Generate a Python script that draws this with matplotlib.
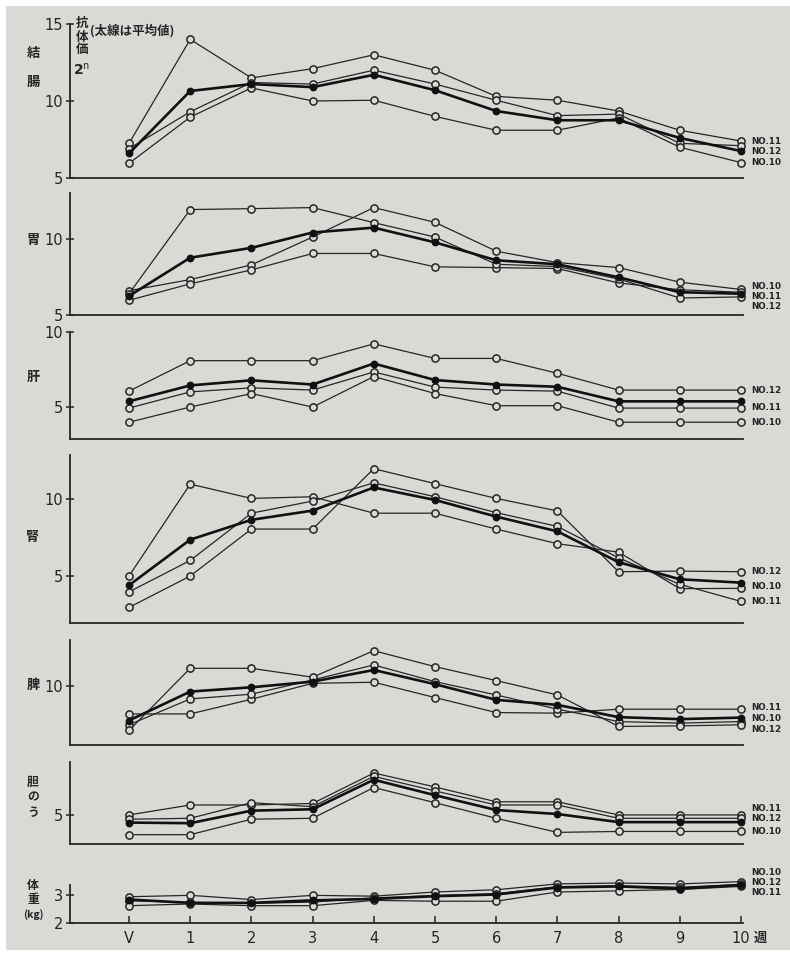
import matplotlib
matplotlib.use("Agg")
import matplotlib.pyplot as plt
from matplotlib.patches import Rectangle

plt.rcParams['font.family'] = ['Noto Sans CJK JP', 'DejaVu Sans']

# weeks after vaccination
x_labels = ['V', '1', '2', '3', '4', '5', '6', '7', '8', '9', '10']

# 結腸
colon_no11 = [7.25, 14.0, 11.5, 12.1, 13.0, 12.0, 10.3, 10.05, 9.35, 8.1, 7.4]
colon_no12 = [6.9, 9.3, 11.2, 11.1, 12.0, 11.1, 10.05, 9.05, 9.15, 7.25, 7.1]
colon_no10 = [5.95, 8.95, 10.85, 10.0, 10.05, 9.0, 8.1, 8.1, 8.9, 7.0, 6.0]
colon_mean = [6.6, 10.65, 11.1, 10.9, 11.7, 10.7, 9.35, 8.75, 8.75, 7.6, 6.75]

# 胃
stomach_no10 = [6.6, 7.33, 8.3, 10.13, 12.07, 11.1, 9.2, 8.45, 8.12, 7.16, 6.68]
stomach_no11 = [5.97, 7.05, 7.97, 9.05, 9.05, 8.17, 8.12, 8.06, 7.11, 6.66, 6.5]
stomach_no12 = [6.4, 11.94, 12.0, 12.07, 11.08, 10.13, 8.34, 8.19, 7.37, 6.12, 6.19]
stomach_mean = [6.25, 8.77, 9.42, 10.43, 10.75, 9.78, 8.6, 8.34, 7.48, 6.5, 6.4]

# 肝
liver_no12 = [6.06, 8.09, 8.09, 8.09, 9.21, 8.24, 8.24, 7.25, 6.13, 6.13, 6.13]
liver_no11 = [4.93, 6.01, 6.28, 6.13, 7.34, 6.33, 6.13, 6.06, 4.93, 4.93, 4.93]
liver_no10 = [3.99, 5.0, 5.9, 5.0, 7.03, 5.9, 5.09, 5.09, 3.99, 3.99, 3.99]
liver_mean = [5.38, 6.44, 6.78, 6.5, 7.9, 6.8, 6.5, 6.35, 5.38, 5.38, 5.38]

# 腎
kidney_no12 = [2.96, 5.0, 8.05, 8.05, 11.97, 11.0, 10.04, 9.23, 5.28, 5.32, 5.28]
kidney_no10 = [5.0, 10.97, 10.04, 10.15, 9.08, 9.08, 8.05, 7.1, 6.55, 4.18, 4.2]
kidney_no11 = [3.97, 6.01, 9.08, 9.87, 11.05, 10.15, 9.12, 8.22, 6.18, 4.46, 3.35]
kidney_mean = [4.4, 7.36, 8.65, 9.25, 10.75, 9.94, 8.86, 7.9, 5.9, 4.79, 4.57]

# 脾
spleen_no11 = [8.17, 8.17, 9.13, 10.17, 10.24, 9.24, 8.26, 8.22, 8.48, 8.48, 8.48]
spleen_no10 = [7.46, 9.15, 9.46, 10.39, 11.37, 10.28, 9.41, 8.48, 7.67, 7.57, 7.67]
spleen_no12 = [7.09, 11.15, 11.15, 10.57, 12.3, 11.26, 10.35, 9.41, 7.35, 7.39, 7.46]
spleen_mean = [7.74, 9.63, 9.91, 10.28, 11.04, 10.11, 9.09, 8.76, 7.96, 7.83, 7.93]

# 胆のう
gall_no11 = [5.0, 5.65, 5.65, 5.75, 7.74, 6.83, 5.86, 5.86, 5.0, 5.0, 5.0]
gall_no12 = [4.72, 4.78, 5.8, 5.54, 7.52, 6.57, 5.65, 5.65, 4.78, 4.78, 4.78]
gall_no10 = [3.71, 3.71, 4.72, 4.78, 6.79, 5.8, 4.78, 3.86, 3.92, 3.92, 3.92]
gall_mean = [4.5, 4.46, 5.28, 5.37, 7.3, 6.29, 5.32, 5.06, 4.53, 4.53, 4.53]

# 体重 (kg)
weight_no10 = [2.94, 2.99, 2.84, 2.99, 2.96, 3.11, 3.19, 3.4, 3.43, 3.4, 3.48]
weight_no12 = [2.8, 2.74, 2.7, 2.75, 2.9, 2.98, 3.05, 3.3, 3.33, 3.28, 3.38]
weight_no11 = [2.62, 2.68, 2.62, 2.62, 2.81, 2.78, 2.78, 3.11, 3.15, 3.2, 3.31]
weight_mean = [2.84, 2.72, 2.72, 2.81, 2.86, 2.96, 3.02, 3.27, 3.31, 3.23, 3.36]

W, H = 790, 956
BG = '#d9d9d6'
INK = '#262626'

# panel layout in pixels: top, bottom, y range, ticks, name chars, label positions
panels = [
    dict(top=24, bottom=178, ylim=(5, 15), ticks=[5, 10, 15], name=['結', '腸'], name_y=[53, 82],
         series=[colon_no11, colon_no12, colon_no10], mean=colon_mean,
         labels=[('NO.11', 7.4), ('NO.12', 6.72), ('NO.10', 6.02)]),
    dict(top=193, bottom=315, ylim=(5, 13.03), ticks=[5, 10], name=['胃'], name_y=[240],
         series=[stomach_no10, stomach_no11, stomach_no12], mean=stomach_mean,
         labels=[('NO.10', 6.85), ('NO.11', 6.2), ('NO.12', 5.55)]),
    dict(top=332, bottom=439, ylim=(2.87, 10), ticks=[5, 10], name=['肝'], name_y=[377],
         series=[liver_no12, liver_no11, liver_no10], mean=liver_mean,
         labels=[('NO.12', 6.13), ('NO.11', 5.0), ('NO.10', 3.99)]),
    dict(top=455, bottom=623, ylim=(1.95, 12.86), ticks=[5, 10], name=['腎'], name_y=[537],
         series=[kidney_no12, kidney_no10, kidney_no11], mean=kidney_mean,
         labels=[('NO.12', 5.28), ('NO.10', 4.3), ('NO.11', 3.35)]),
    dict(top=640, bottom=745, ylim=(6.14, 13.0), ticks=[10], name=['脾'], name_y=[685],
         series=[spleen_no11, spleen_no10, spleen_no12], mean=spleen_mean,
         labels=[('NO.11', 8.6), ('NO.10', 7.88), ('NO.12', 7.15)]),
    dict(top=762, bottom=844, ylim=(3.1, 8.46), ticks=[5], name=['胆', 'の', 'う'], name_y=[782, 797, 812],
         series=[gall_no11, gall_no12, gall_no10], mean=gall_mean,
         labels=[('NO.11', 5.45), ('NO.12', 4.75), ('NO.10', 3.92)]),
    dict(top=885, bottom=923, ylim=(2, 3.36), ticks=[2, 3], name=['体', '重', '(kg)'], name_y=[886, 900, 915],
         series=[weight_no10, weight_no12, weight_no11], mean=weight_mean,
         labels=[('NO.10', 3.8), ('NO.12', 3.45), ('NO.11', 3.1)]),
]

fig = plt.figure(figsize=(W / 100, H / 100), dpi=100, facecolor='white')
fig.patches.append(Rectangle((6 / W, 6 / H), 1, 1 - 12 / H, transform=fig.transFigure,
                             facecolor=BG, edgecolor='none', zorder=-10))

xs = list(range(len(x_labels)))
left_px, right_px = 70, 743
x0_px, step_px = 129, 61.2
xlim = ((left_px - x0_px) / step_px, (right_px - x0_px) / step_px)

for i, p in enumerate(panels):
    ax = fig.add_axes([left_px / W, 1 - p['bottom'] / H, (right_px - left_px) / W,
                       (p['bottom'] - p['top']) / H])
    ax.set_facecolor('none')
    ax.set_xlim(*xlim)
    ax.set_ylim(*p['ylim'])
    for s in ('top', 'right'):
        ax.spines[s].set_visible(False)
    for s in ('left', 'bottom'):
        ax.spines[s].set_color(INK)
        ax.spines[s].set_linewidth(1.3)

    for ys in p['series']:
        ax.plot(xs, ys, color=INK, lw=0.9, marker='o', ms=5.2, mfc=BG, mec=INK,
                mew=1.1, clip_on=False, zorder=3)
    ax.plot(xs, p['mean'], color='#111111', lw=1.9, marker='o', ms=4.6, mfc='#111111',
            mec='#111111', clip_on=False, zorder=4)

    for txt, ly in p['labels']:
        ax.text(10.17, ly, txt, fontsize=6.3, fontweight='bold', family='DejaVu Sans',
                color=INK, va='center', ha='left', clip_on=False)

    ax.set_yticks(p['ticks'])
    ax.set_yticklabels([str(t) for t in p['ticks']], fontsize=10.5, family='DejaVu Sans',
                       color=INK)
    ax.tick_params(axis='y', direction='inout', length=6, width=1.1, color=INK, pad=2)

    if i == len(panels) - 1:
        ax.set_xticks(xs)
        ax.set_xticklabels(x_labels, fontsize=10.5, family='DejaVu Sans', color=INK)
        ax.tick_params(axis='x', direction='in', length=5, width=1.1, color=INK, pad=6)
        fig.text(760 / W, 1 - 938 / H, '週', fontsize=9.5, fontweight='bold',
                 color=INK, ha='center', va='center')
    else:
        ax.set_xticks([])

    for ch, cy in zip(p['name'], p['name_y']):
        fs = 7.5 if ch == '(kg)' else (8.5 if len(p['name']) == 3 else 9.5)
        fig.text(33 / W, 1 - cy / H, ch, fontsize=fs, fontweight='bold', color=INK,
                 ha='center', va='center')

# 縦軸の説明
for ch, cy in zip(['抗', '体', '価'], [23, 37, 50]):
    fig.text(82 / W, 1 - cy / H, ch, fontsize=9, fontweight='bold', color=INK,
             ha='center', va='center')
fig.text(82 / W, 1 - 70 / H, r'2$^{\rm n}$', fontsize=10, fontweight='bold', color=INK,
         ha='center', va='center', family='DejaVu Sans')
fig.text(90 / W, 1 - 31 / H, '(太線は平均値)', fontsize=9, fontweight='bold', color=INK,
         ha='left', va='center')

fig.savefig('out.png', dpi=100, facecolor='white')
